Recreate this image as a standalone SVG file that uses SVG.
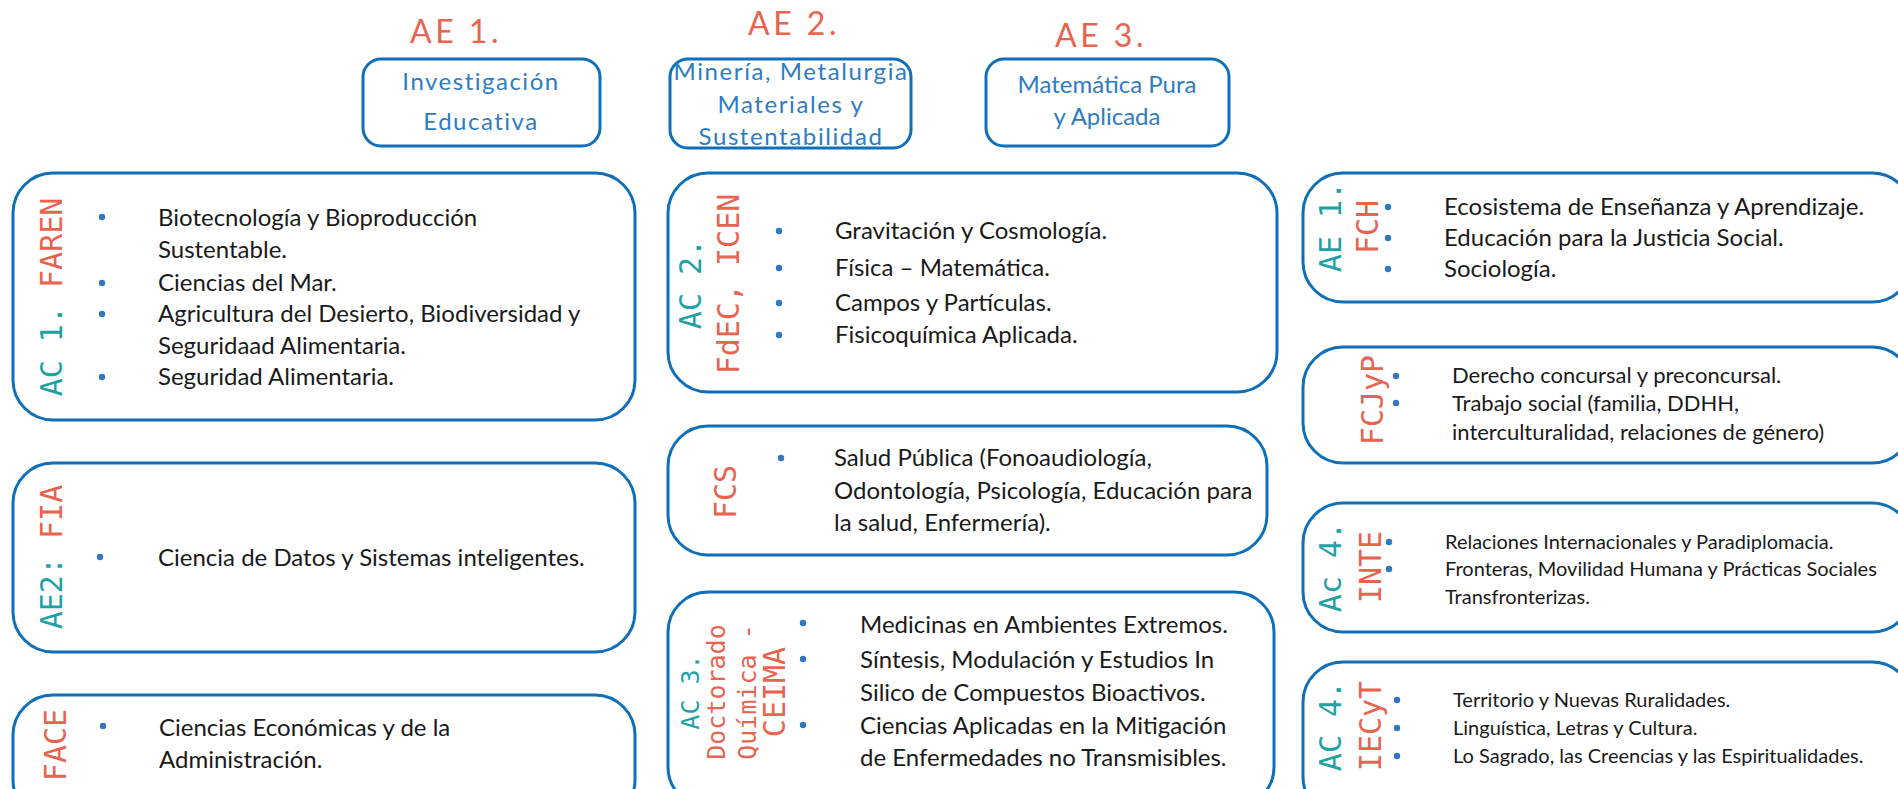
<svg xmlns="http://www.w3.org/2000/svg" width="1898" height="789" viewBox="0 0 1898 789">
<style>
.box{fill:#fff;stroke:#0F6FB9;stroke-width:3}
.tbox{fill:#fff;stroke:#0F6FB9;stroke-width:3}
.hd{font-family:Lato,"Liberation Sans",sans-serif;font-size:32px;fill:#E8644F;letter-spacing:3.5px}
.tt{font-family:Lato,"Liberation Sans",sans-serif;font-size:24px;fill:#2E7CC2;text-anchor:middle}
.lb{font-family:"DejaVu Sans Mono",monospace;font-size:30px;text-anchor:middle}
.lbs{font-family:"DejaVu Sans Mono",monospace;font-size:25px;text-anchor:middle}
.te{fill:#1FA2A6}
.rd{fill:#E8644F}
.bt{font-family:Lato,"Liberation Sans",sans-serif;font-size:24px;fill:#1A1A1A}
.bs{font-family:Lato,"Liberation Sans",sans-serif;font-size:22px;fill:#1A1A1A}
.bx{font-family:Lato,"Liberation Sans",sans-serif;font-size:20px;fill:#1A1A1A}
.dot{fill:#2F78C0}
</style>

<g id="connectors"></g>

<g id="ae1-top">
<text class="hd" x="410" y="43">AE 1.</text>
<rect class="tbox" x="363" y="59" width="237" height="87" rx="18"/>
<text class="tt" x="481" y="90" letter-spacing="1.5">Investigación</text>
<text class="tt" x="481" y="130" letter-spacing="1.5">Educativa</text>
</g>

<g id="ae2-top">
<text class="hd" x="748" y="35">AE 2.</text>
<rect class="tbox" x="670" y="59" width="241" height="89" rx="18"/>
<text class="tt" x="791" y="80" font-size="25" letter-spacing="1.6">Minería, Metalurgia</text>
<text class="tt" x="791" y="113" font-size="25" letter-spacing="1.6">Materiales y</text>
<text class="tt" x="791" y="145" font-size="25" letter-spacing="1.6">Sustentabilidad</text>
</g>

<g id="ae3-top">
<text class="hd" x="1055" y="47">AE 3.</text>
<rect class="tbox" x="986" y="59" width="243" height="87" rx="18"/>
<text class="tt" x="1107" y="93" font-size="22">Matemática Pura</text>
<text class="tt" x="1107" y="125" font-size="22">y Aplicada</text>
</g>

<g id="ac1-faren">
<rect class="box" x="13" y="173" width="622" height="247" rx="40"/>
<text class="lb" transform="translate(51,297) rotate(-90)" y="11"><tspan class="te">AC 1.</tspan><tspan class="rd"> FAREN</tspan></text>
<circle class="dot" cx="102" cy="217" r="3.2"/>
<circle class="dot" cx="102" cy="283" r="3.2"/>
<circle class="dot" cx="102" cy="314" r="3.2"/>
<circle class="dot" cx="102" cy="377" r="3.2"/>
<text class="bt" x="158" y="226">Biotecnología y Bioproducción</text>
<text class="bt" x="158" y="258">Sustentable.</text>
<text class="bt" x="158" y="291">Ciencias del Mar.</text>
<text class="bt" x="158" y="322">Agricultura del Desierto, Biodiversidad y</text>
<text class="bt" x="158" y="354">Seguridaad Alimentaria.</text>
<text class="bt" x="158" y="385">Seguridad Alimentaria.</text>
</g>

<g id="ae2-fia">
<rect class="box" x="13" y="463" width="622" height="189" rx="40"/>
<text class="lb" transform="translate(51,557) rotate(-90)" y="11"><tspan class="te">AE2:</tspan><tspan class="rd"> FIA</tspan></text>
<circle class="dot" cx="100" cy="557" r="3.2"/>
<text class="bt" x="158" y="566">Ciencia de Datos y Sistemas inteligentes.</text>
</g>

<g id="face">
<rect class="box" x="13" y="695" width="622" height="125" rx="40"/>
<text class="lb rd" transform="translate(55,745) rotate(-90)" y="11">FACE</text>
<circle class="dot" cx="103" cy="726" r="3.2"/>
<text class="bt" x="159" y="736">Ciencias Económicas y de la</text>
<text class="bt" x="159" y="768">Administración.</text>
</g>

<g id="ac2-fdec-icen">
<rect class="box" x="668" y="173" width="609" height="219" rx="40"/>
<text class="lb te" transform="translate(690,284) rotate(-90)" y="11">AC 2.</text>
<text class="lb rd" transform="translate(728,284) rotate(-90)" y="11">FdEC, ICEN</text>
<circle class="dot" cx="779" cy="231" r="3.2"/>
<circle class="dot" cx="779" cy="268" r="3.2"/>
<circle class="dot" cx="779" cy="303" r="3.2"/>
<circle class="dot" cx="779" cy="335" r="3.2"/>
<text class="bt" x="835" y="239">Gravitación y Cosmología.</text>
<text class="bt" x="835" y="276">Física – Matemática.</text>
<text class="bt" x="835" y="311">Campos y Partículas.</text>
<text class="bt" x="835" y="343">Fisicoquímica Aplicada.</text>
</g>

<g id="fcs">
<rect class="box" x="668" y="426" width="599" height="129" rx="40"/>
<text class="lb rd" transform="translate(725,492) rotate(-90)" y="11">FCS</text>
<circle class="dot" cx="781" cy="458" r="3.2"/>
<text class="bt" x="834" y="466">Salud Pública (Fonoaudiología,</text>
<text class="bt" x="834" y="499">Odontología, Psicología, Educación para</text>
<text class="bt" x="834" y="531">la salud, Enfermería).</text>
</g>

<g id="ac3-ceima">
<rect class="box" x="668" y="592" width="606" height="215" rx="40"/>
<text class="lbs te" transform="translate(690,692) rotate(-90)" y="9">AC 3.</text>
<text class="lbs rd" transform="translate(716,692) rotate(-90)" y="9">Doctorado</text>
<text class="lbs rd" transform="translate(747,692) rotate(-90)" y="9">Química -</text>
<text class="lb rd" transform="translate(775,692) rotate(-90)" y="10" font-size="28">CEIMA</text>
<circle class="dot" cx="803" cy="623" r="3.2"/>
<circle class="dot" cx="803" cy="659" r="3.2"/>
<circle class="dot" cx="803" cy="725" r="3.2"/>
<text class="bt" x="860" y="633">Medicinas en Ambientes Extremos.</text>
<text class="bt" x="860" y="668">Síntesis, Modulación y Estudios In</text>
<text class="bt" x="860" y="701">Silico de Compuestos Bioactivos.</text>
<text class="bt" x="860" y="734">Ciencias Aplicadas en la Mitigación</text>
<text class="bt" x="860" y="766">de Enfermedades no Transmisibles.</text>
</g>

<g id="ae1-fch">
<rect class="box" x="1303" y="173" width="609" height="129" rx="40"/>
<text class="lb te" transform="translate(1330,227) rotate(-90)" y="11">AE 1.</text>
<text class="lb rd" transform="translate(1367,227) rotate(-90)" y="11">FCH</text>
<circle class="dot" cx="1388" cy="207" r="3.2"/>
<circle class="dot" cx="1388" cy="238" r="3.2"/>
<circle class="dot" cx="1388" cy="269" r="3.2"/>
<text class="bt" x="1444" y="215">Ecosistema de Enseñanza y Aprendizaje.</text>
<text class="bt" x="1444" y="246">Educación para la Justicia Social.</text>
<text class="bt" x="1444" y="277">Sociología.</text>
</g>

<g id="fcjyp">
<rect class="box" x="1303" y="347" width="609" height="116" rx="40"/>
<text class="lb rd" transform="translate(1372,400) rotate(-90)" y="11">FCJyP</text>
<circle class="dot" cx="1396" cy="376" r="3.2"/>
<circle class="dot" cx="1396" cy="403" r="3.2"/>
<text class="bs" x="1452" y="383">Derecho concursal y preconcursal.</text>
<text class="bs" x="1452" y="411">Trabajo social (familia, DDHH,</text>
<text class="bs" x="1452" y="440">interculturalidad, relaciones de género)</text>
</g>

<g id="ac4-inte">
<rect class="box" x="1303" y="503" width="609" height="129" rx="40"/>
<text class="lb te" transform="translate(1330,567) rotate(-90)" y="11">Ac 4.</text>
<text class="lb rd" transform="translate(1370,567) rotate(-90)" y="11">INTE</text>
<circle class="dot" cx="1389" cy="542" r="3.2"/>
<circle class="dot" cx="1389" cy="569" r="3.2"/>
<text class="bx" x="1445" y="549">Relaciones Internacionales y Paradiplomacia.</text>
<text class="bx" x="1445" y="576">Fronteras, Movilidad Humana y Prácticas Sociales</text>
<text class="bx" x="1445" y="604">Transfronterizas.</text>
</g>

<g id="ac4-iecyt">
<rect class="box" x="1303" y="662" width="609" height="155" rx="40"/>
<text class="lb te" transform="translate(1330,726) rotate(-90)" y="11">AC 4.</text>
<text class="lb rd" transform="translate(1370,726) rotate(-90)" y="11">IECyT</text>
<circle class="dot" cx="1397" cy="700" r="3.2"/>
<circle class="dot" cx="1397" cy="728" r="3.2"/>
<circle class="dot" cx="1397" cy="756" r="3.2"/>
<text class="bx" x="1453" y="707">Territorio y Nuevas Ruralidades.</text>
<text class="bx" x="1453" y="735">Linguística, Letras y Cultura.</text>
<text class="bx" x="1453" y="763">Lo Sagrado, las Creencias y las Espiritualidades.</text>
</g>
</svg>
